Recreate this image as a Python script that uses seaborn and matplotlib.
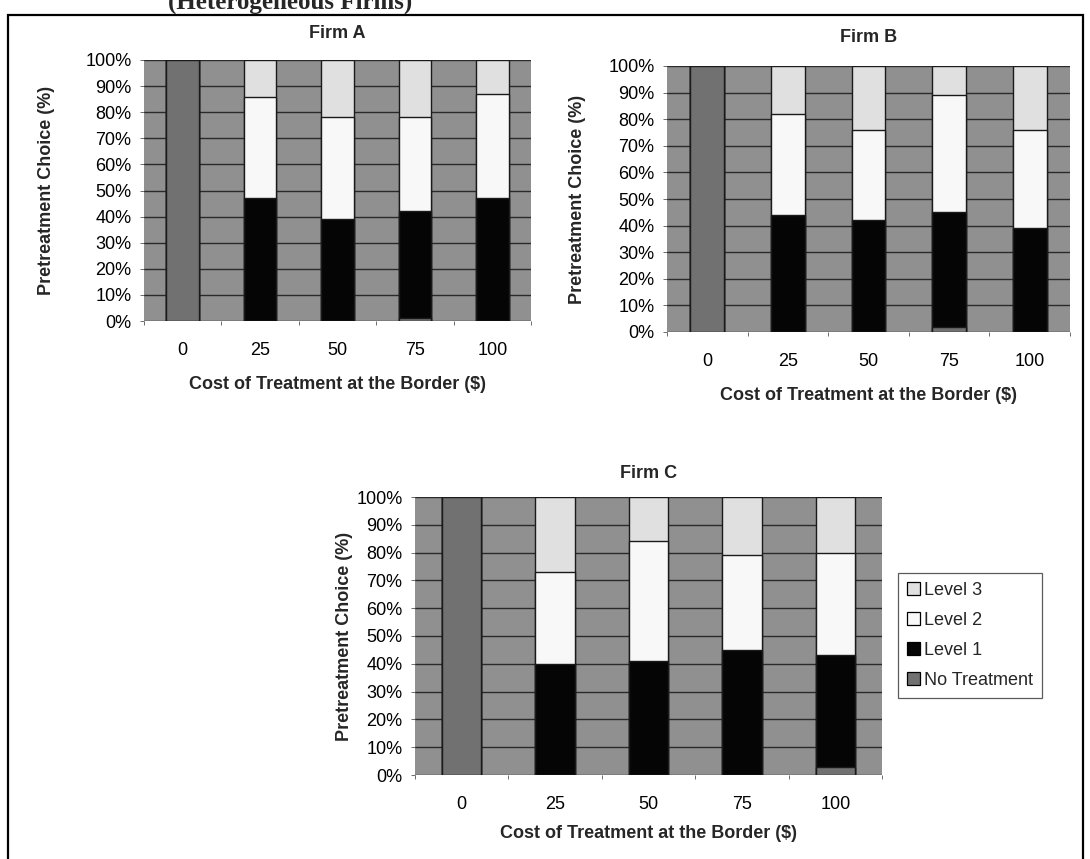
import matplotlib
matplotlib.use("Agg")
import matplotlib.pyplot as plt
import seaborn as sns
import pandas as pd
import numpy as np
from matplotlib.patches import Patch, Rectangle

# ---------------- data ----------------
cost = ["0", "25", "50", "75", "100"]
series = ["Level 3", "Level 2", "Level 1", "No Treatment"]

firmA_no_treatment = [100, 0, 0, 1, 0]
firmA_level1 = [0, 47, 39, 41, 47]
firmA_level2 = [0, 39, 39, 36, 40]
firmA_level3 = [0, 14, 22, 22, 13]

firmB_no_treatment = [100, 0, 0, 2, 0]
firmB_level1 = [0, 44, 42, 43, 39]
firmB_level2 = [0, 38, 34, 44, 37]
firmB_level3 = [0, 18, 24, 11, 24]

firmC_no_treatment = [100, 0, 0, 0, 3]
firmC_level1 = [0, 40, 41, 45, 40]
firmC_level2 = [0, 33, 43, 34, 37]
firmC_level3 = [0, 27, 16, 21, 20]

ytick_values = [0, 10, 20, 30, 40, 50, 60, 70, 80, 90, 100]
ytick_labels = ["0%", "10%", "20%", "30%", "40%", "50%", "60%", "70%", "80%", "90%", "100%"]

panel_titles = ["Firm A", "Firm B", "Firm C"]
xlabel = "Cost of Treatment at the Border ($)"
ylabel = "Pretreatment Choice (%)"
top_title = "(Heterogeneous Firms)"

# ---------------- style ----------------
sns.set_theme(style="white")
plt.rcParams["font.family"] = ["Liberation Sans", "DejaVu Sans"]

colors = {
    "No Treatment": "#717171",
    "Level 1": "#050505",
    "Level 2": "#f8f8f8",
    "Level 3": "#e0e0e0",
}
bg_color = "#909090"
FS = 13

fig = plt.figure(figsize=(10.9, 8.59), dpi=100)
W, H = 1090, 859


def ax_from_px(x0, y0, x1, y1):
    return fig.add_axes([x0 / W, 1 - y1 / H, (x1 - x0) / W, (y1 - y0) / H])


axA = ax_from_px(144, 60, 531, 321)
axB = ax_from_px(667, 66, 1070, 332)
axC = ax_from_px(415, 497, 882, 775)

panels = [
    (axA, firmA_no_treatment, firmA_level1, firmA_level2, firmA_level3),
    (axB, firmB_no_treatment, firmB_level1, firmB_level2, firmB_level3),
    (axC, firmC_no_treatment, firmC_level1, firmC_level2, firmC_level3),
]
ylabel_x = [-0.23, -0.20, -0.133]
xlabel_pad = [12, 12, 9]
title_pad = [16, 17, 14]

for i, ((ax, nt, l1, l2, l3), title) in enumerate(zip(panels, panel_titles)):
    nt = np.array(nt, float)
    l1 = np.array(l1, float)
    l2 = np.array(l2, float)
    l3 = np.array(l3, float)
    cum = {
        "No Treatment": nt,
        "Level 1": nt + l1,
        "Level 2": nt + l1 + l2,
        "Level 3": nt + l1 + l2 + l3,
    }
    ax.set_facecolor(bg_color)
    for s in ["Level 3", "Level 2", "Level 1", "No Treatment"]:
        df = pd.DataFrame({"cost": cost, "value": cum[s]})
        sns.barplot(data=df, x="cost", y="value", order=cost, color=colors[s],
                    width=0.42, edgecolor="#1a1a1a", linewidth=1.0,
                    saturation=1, ax=ax, zorder=3)
    ax.set_ylim(0, 100)
    ax.set_xlim(-0.5, len(cost) - 0.5)
    ax.set_yticks(ytick_values)
    ax.set_yticklabels(ytick_labels, fontsize=FS, color="black")
    ax.yaxis.grid(True, color="#2a2a2a", linewidth=1.0, zorder=0)
    ax.set_axisbelow(True)
    ax.set_xticks(range(len(cost)))
    ax.set_xticklabels(cost, fontsize=FS, color="black")
    ax.tick_params(axis="x", length=0, pad=15)
    ax.tick_params(axis="y", length=3, width=0.6, color="#555555", pad=6, left=True)
    ax.set_xticks(np.arange(-0.5, len(cost), 1.0), minor=True)
    ax.tick_params(axis="x", which="minor", length=3, width=0.6, color="#555555", bottom=True)
    for sp in ax.spines.values():
        sp.set_visible(False)
    ax.set_xlabel(xlabel, fontsize=FS, fontweight="bold", labelpad=xlabel_pad[i])
    ax.set_ylabel(ylabel, fontsize=FS, fontweight="bold")
    ax.yaxis.set_label_coords(ylabel_x[i], 0.5)
    ax.set_title(title, fontsize=FS, fontweight="bold", pad=title_pad[i])

# legend next to Firm C
handles = [Patch(facecolor=colors[s], edgecolor="black", linewidth=0.9, label=s) for s in series]
leg = fig.legend(handles=handles, loc="upper left",
                 bbox_to_anchor=(898 / W, 1 - 573 / H), fontsize=13,
                 frameon=True, fancybox=False, handlelength=0.7, handleheight=0.7,
                 handletextpad=0.25, labelspacing=0.72, borderpad=0.5,
                 borderaxespad=0)
leg.get_frame().set_edgecolor("#333333")
leg.get_frame().set_linewidth(0.9)

# outer border
fig.patches.append(Rectangle((8 / W, -0.05), (1083 - 8) / W, 1.05 - 15 / H,
                             transform=fig.transFigure, fill=False,
                             edgecolor="black", linewidth=1.6))

# partially visible top title (cut by the page edge, as in the source)
fig.text(290 / W, 1 - 9 / H, top_title, ha="center", va="baseline",
         fontsize=18, fontweight="bold", family=["Liberation Serif", "DejaVu Serif"])

fig.savefig("out.png", dpi=100)
